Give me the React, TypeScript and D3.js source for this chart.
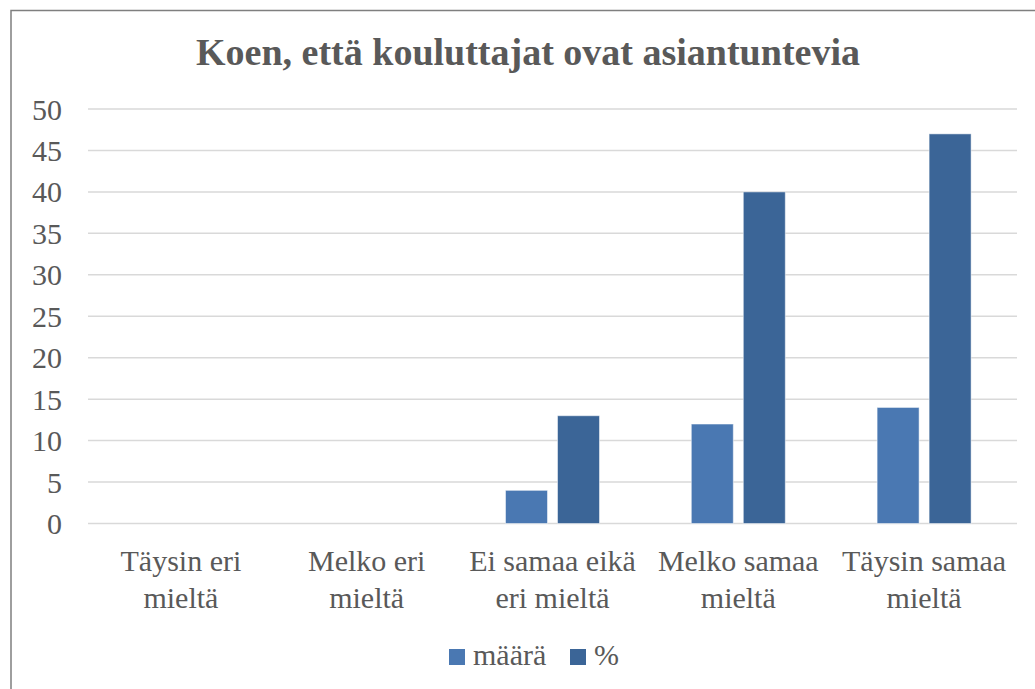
import React from 'react';
import * as d3 from 'd3';

const categories = [
  ['Täysin eri', 'mieltä'],
  ['Melko eri', 'mieltä'],
  ['Ei samaa eikä', 'eri mieltä'],
  ['Melko samaa', 'mieltä'],
  ['Täysin samaa', 'mieltä'],
];
const maara = [0, 0, 4, 12, 14];
const prosentti = [0, 0, 13, 40, 47];
const yTicks = [0, 5, 10, 15, 20, 25, 30, 35, 40, 45, 50];
const seriesNames = ['määrä', '%'];
const colors = ['#4a78b2', '#3b6597'];

const W = 1035;
const H = 689;
const plot = { left: 88, right: 1017, top: 109, bottom: 523.5 };
const font = 'Liberation Serif';
const textColor = '#595959';

export default function App() {
  const x = d3.scaleBand<number>()
    .domain(d3.range(categories.length))
    .range([plot.left, plot.right]);
  const y = d3.scaleLinear().domain([0, 50]).range([plot.bottom, plot.top]);

  const barW = 42;
  const gap = 10;
  const series = [maara, prosentti];

  return (
    <svg width={W} height={H} style={{ position: 'absolute', left: 0, top: 0, background: '#fff' }}>
      <rect x={11} y={10.5} width={1040} height={700} fill="#fff" stroke="#7f7f7f" strokeWidth={1.5} />
      <text x={528} y={65} textAnchor="middle" fontSize={38} fontWeight="bold" fill={textColor}
        style={{ fontFamily: font }}>
        Koen, että kouluttajat ovat asiantuntevia
      </text>
      {yTicks.map(t => (
        <g key={t}>
          <line x1={plot.left} x2={plot.right} y1={y(t)} y2={y(t)} stroke="#d9d9d9" strokeWidth={1.5} />
          <text x={62} y={y(t) + 10.5} textAnchor="end" fontSize={30} fill={textColor}
            style={{ fontFamily: font }}>{t}</text>
        </g>
      ))}
      {series.map((vals, si) => vals.map((v, i) => {
        const cx = x(i)! + x.bandwidth() / 2;
        const bx = si === 0 ? cx - gap / 2 - barW : cx + gap / 2;
        if (v === 0) return null;
        return (
          <rect key={si + '-' + i} x={bx} y={y(v)} width={barW} height={y(0) - y(v)}
            fill={colors[si]} stroke="#ffffff" strokeOpacity={0.5} strokeWidth={1} />
        );
      }))}
      {categories.map((lines, i) => (
        <text key={i} x={x(i)! + x.bandwidth() / 2} textAnchor="middle" fontSize={30} fill={textColor}
          style={{ fontFamily: font }}>
          {lines.map((l, j) => (
            <tspan key={j} x={x(i)! + x.bandwidth() / 2} y={571 + j * 37}>{l}</tspan>
          ))}
        </text>
      ))}
      {seriesNames.map((name, i) => {
        const lx = [449, 570][i];
        return (
          <g key={name}>
            <rect x={lx} y={649} width={16} height={16} fill={colors[i]} />
            <text x={lx + 24} y={665} fontSize={30} fill={textColor}
              style={{ fontFamily: font }}>{name}</text>
          </g>
        );
      })}
    </svg>
  );
}
